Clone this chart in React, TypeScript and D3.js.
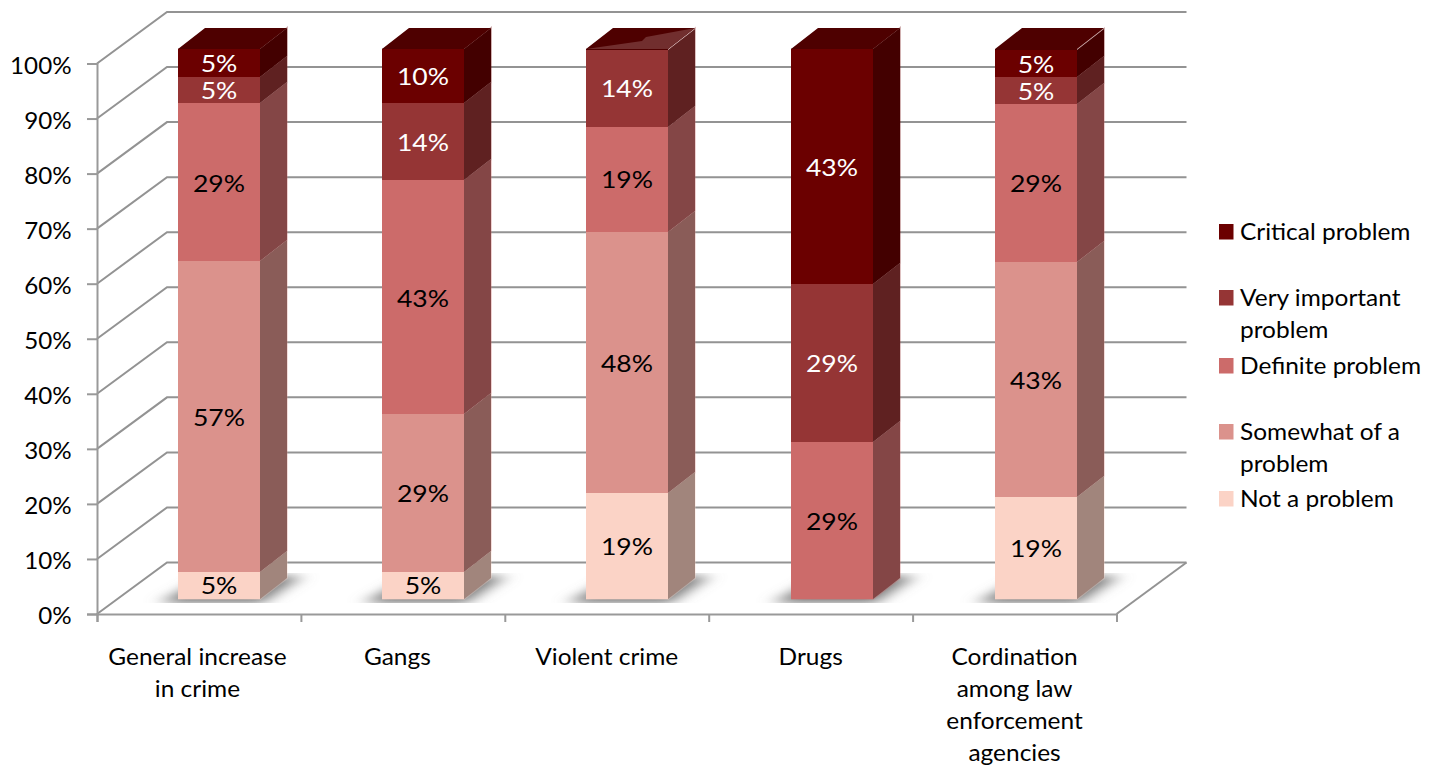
import { useEffect, useRef } from 'react';
import * as d3 from 'd3';

const categories = ['General increase in crime', 'Gangs', 'Violent crime', 'Drugs', 'Cordination among law enforcement agencies'];
const categoryLines = [
  ['General increase', 'in crime'],
  ['Gangs'],
  ['Violent crime'],
  ['Drugs'],
  ['Cordination', 'among law', 'enforcement', 'agencies'],
];

// bottom to top, one value per category
const notAProblem = [5.0, 5.0, 19.2, 0, 18.6];
const somewhat = [56.4, 28.6, 47.6, 0, 42.7];
const definite = [28.7, 42.5, 19.1, 28.6, 28.7];
const veryImportant = [4.9, 14.0, 14.0, 28.7, 4.9];
const critical = [5.0, 9.9, 0, 42.7, 4.9];

const notAProblemLabels = ['5%', '5%', '19%', '', '19%'];
const somewhatLabels = ['57%', '29%', '48%', '', '43%'];
const definiteLabels = ['29%', '43%', '19%', '29%', '29%'];
const veryImportantLabels = ['5%', '14%', '14%', '29%', '5%'];
const criticalLabels = ['5%', '10%', '', '43%', '5%'];

const seriesKeys = ['not', 'somewhat', 'definite', 'very', 'critical'];
const seriesValues = [notAProblem, somewhat, definite, veryImportant, critical];
const seriesLabels = [notAProblemLabels, somewhatLabels, definiteLabels, veryImportantLabels, criticalLabels];
const frontColors = ['#fbd3c6', '#db928c', '#cc6b6a', '#953535', '#6b0000'];
const sideColors = ['#a1857c', '#8a5c58', '#844646', '#5f2121', '#430000'];
const labelColors = ['#000', '#000', '#000', '#fff', '#fff'];

const legendRows = [
  { color: '#6b0000', lines: ['Critical problem'] },
  { color: '#953535', lines: ['Very important', 'problem'] },
  { color: '#cc6b6a', lines: ['Definite problem'] },
  { color: '#db928c', lines: ['Somewhat of a', 'problem'] },
  { color: '#fbd3c6', lines: ['Not a problem'] },
];
const legendY = [232, 298, 366, 432, 499];

const yTicks = [0, 10, 20, 30, 40, 50, 60, 70, 80, 90, 100];
const FONT = 'Lato, "Open Sans", sans-serif';

export default function App() {
  const svgRef = useRef<SVGSVGElement>(null);

  useEffect(() => {
    if (!svgRef.current) return;
    const svg = d3.select(svgRef.current);
    svg.selectAll('*').remove();

    const wallDx = 70, wallDy = -51.5;
    const barDx = 27, barDy = -21;
    const barWidth = 82;

    const x = d3.scaleBand<string>().domain(categories).range([97, 1116.5]);
    const xBar = d3.scaleBand<string>().domain(categories).range([178, 1199]);
    const yWall = d3.scaleLinear().domain([0, 100]).range([614, 63.5]);
    const yBar = d3.scaleLinear().domain([0, 100]).range([599, 49]);
    const barLeft = (c: string) => Math.round(xBar(c)!);

    const rows = categories.map((c, i) => {
      const row: Record<string, any> = { category: c };
      seriesKeys.forEach((k, s) => { row[k] = seriesValues[s][i]; });
      return row;
    });
    const stacked = d3.stack<any>().keys(seriesKeys)(rows);

    const defs = svg.append('defs');
    const blur = defs.append('filter').attr('id', 'blur')
      .attr('x', '-30%').attr('y', '-60%').attr('width', '160%').attr('height', '220%');
    blur.append('feGaussianBlur').attr('stdDeviation', '9 4');
    defs.append('clipPath').attr('id', 'floorClip')
      .append('rect').attr('x', 0).attr('y', 573).attr('width', 1439).attr('height', 30);

    // back wall gridlines + diagonals
    const wall = svg.append('g').attr('stroke', '#939393').attr('stroke-width', 2).attr('fill', 'none');
    yTicks.forEach(t => {
      const yy = yWall(t);
      wall.append('path').attr('d', d3.line()([[97, yy], [97 + wallDx, yy + wallDy], [1116.5 + wallDx, yy + wallDy]]));
    });
    wall.append('line').attr('x1', 1116.5).attr('y1', yWall(0)).attr('x2', 1116.5 + wallDx).attr('y2', yWall(0) + wallDy);

    // floor shadows
    svg.append('g').attr('clip-path', 'url(#floorClip)')
      .selectAll('path').data(categories).join('path')
      .attr('d', c => {
        const x0 = barLeft(c);
        return d3.line()([[x0 - 18, 603], [x0 + barWidth + 2, 603], [x0 + barWidth + 42, 576], [x0 + 30, 576]]);
      })
      .attr('fill', '#7c7c7c')
      .attr('filter', 'url(#blur)');

    // pale fringe around each bar
    const fringe = svg.append('g').attr('fill', 'none').attr('stroke-width', 2).attr('opacity', 0.3);
    stacked.forEach((layer, s) => {
      layer.forEach((d, i) => {
        if (d[1] - d[0] <= 0) return;
        const x0 = barLeft(categories[i]);
        const x1 = x0 + barWidth;
        const y0 = yBar(d[0]), y1 = yBar(d[1]);
        fringe.append('path')
          .attr('d', d3.line()([[x0, y1], [x1, y1], [x1 + barDx, y1 + barDy], [x1 + barDx, y0 + barDy], [x1, y0], [x0, y0]]))
          .attr('stroke', frontColors[s]);
      });
    });

    // top faces
    categories.forEach((c, i) => {
      const x0 = barLeft(c);
      const x1 = x0 + barWidth;
      const top = yBar(100);
      svg.append('path')
        .attr('d', d3.line()([[x0, top + 1], [x0, top], [x0 + barDx, top + barDy], [x1 + barDx, top + barDy], [x1, top], [x1, top + 1]]))
        .attr('fill', '#4e0000');
      if (critical[i] === 0) {
        // empty top segment: the face below shows through as a wedge
        svg.append('path')
          .attr('d', d3.line()([[x0, top], [x0 + 56, top - 8], [x0 + 60, top - 12], [x1 + barDx, top + barDy], [x1, top]]))
          .attr('fill', '#712e2e');
      }
    });

    // bars, side then front
    stacked.forEach((layer, s) => {
      const g = svg.append('g');
      layer.forEach((d, i) => {
        if (d[1] - d[0] <= 0) return;
        const x0 = barLeft(categories[i]);
        const x1 = x0 + barWidth;
        const y0 = Math.round(yBar(d[0])), y1 = Math.round(yBar(d[1]));
        g.append('path')
          .attr('d', d3.line()([[x1 - 1, y1], [x1, y1], [x1 + barDx, y1 + barDy], [x1 + barDx, y0 + barDy], [x1, y0], [x1 - 1, y0]]))
          .attr('fill', sideColors[s]);
        g.append('rect')
          .attr('x', x0).attr('y', y1).attr('width', barWidth).attr('height', y0 - y1)
          .attr('fill', frontColors[s]);
      });
    });

    // data labels
    const labels = svg.append('g')
      .attr('text-anchor', 'middle').attr('font-family', FONT).attr('font-size', 23.5);
    stacked.forEach((layer, s) => {
      layer.forEach((d, i) => {
        const text = seriesLabels[s][i];
        if (!text) return;
        const cx = barLeft(categories[i]) + barWidth / 2;
        labels.append('text')
          .attr('transform', `translate(${cx},${yBar((d[0] + d[1]) / 2) + 1}) scale(1.13,1)`)
          .attr('dy', '0.35em')
          .attr('fill', labelColors[s])
          .text(text);
      });
    });

    // axes
    const yAxis = d3.axisLeft(yWall).tickValues(yTicks).tickFormat(d => `${d}%`).tickSize(10);
    const yG = svg.append('g').attr('transform', 'translate(97,0)').call(yAxis);
    yG.selectAll('.domain, line').attr('stroke', '#999').attr('stroke-width', 2);
    yG.selectAll('text')
      .attr('x', 0).attr('font-family', FONT).attr('font-size', 23).attr('fill', '#000')
      .attr('transform', 'translate(-25.5,2.5) scale(1.05,1)');

    const xAxisScale = d3.scaleLinear().domain([0, 5]).range([97, 1116.5]);
    const xAxis = d3.axisBottom(xAxisScale).ticks(5).tickFormat(() => '').tickSize(8).tickSizeOuter(8);
    const xG = svg.append('g').attr('transform', 'translate(0,614)').call(xAxis);
    xG.selectAll('.domain, line').attr('stroke', '#999').attr('stroke-width', 2);

    // category labels
    const catG = svg.append('g')
      .attr('text-anchor', 'middle').attr('font-family', FONT).attr('font-size', 23).attr('fill', '#000');
    categories.forEach((c, i) => {
      const shift = i === 1 ? -5.5 : i === 0 ? -1.5 : 0; // "Gangs" sits left of its band in the original
      categoryLines[i].forEach((line, l) => {
        catG.append('text')
          .attr('transform', `translate(${x(c)! + x.bandwidth() / 2 + shift},${656.5 + l * 32.3}) scale(1.064,1)`)
          .attr('dy', '0.35em')
          .text(line);
      });
    });

    // legend
    const legend = svg.append('g').attr('font-family', FONT).attr('font-size', 23).attr('fill', '#000');
    legendRows.forEach((row, i) => {
      legend.append('rect')
        .attr('x', 1219).attr('y', legendY[i] - 8).attr('width', 14.5).attr('height', 15.5)
        .attr('fill', row.color);
      row.lines.forEach((line, l) => {
        legend.append('text')
          .attr('transform', `translate(1240,${legendY[i] + l * 32}) scale(1.064,1)`)
          .attr('dy', '0.35em')
          .text(line);
      });
    });
  }, []);

  return <svg ref={svgRef} width={1439} height={769} style={{ position: 'absolute', left: 0, top: 0 }} />;
}
